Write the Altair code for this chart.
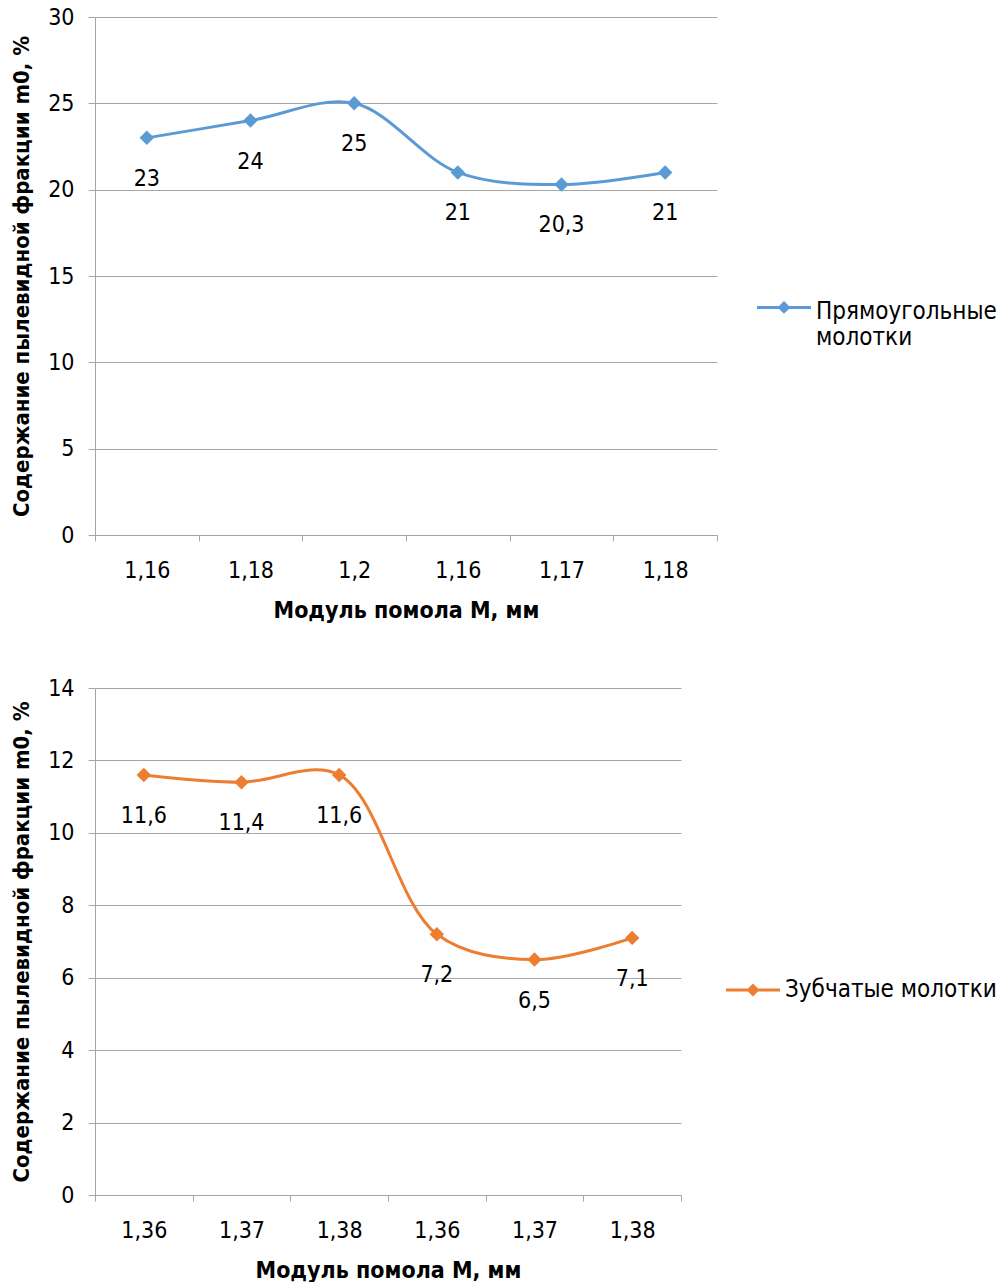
import json

import altair as alt
import pandas as pd

# Axis titles shared by both panels
x_title = "Модуль помола М, мм"
y_title = "Содержание пылевидной фракции m0, %"

# Panel 1: rectangular hammers
top_series = "Прямоугольные молотки"
top_labels = ["1,16", "1,18", "1,2", "1,16", "1,17", "1,18"]
top_values = [23, 24, 25, 21, 20.3, 21]

# Panel 2: toothed hammers
bottom_series = "Зубчатые молотки"
bottom_labels = ["1,36", "1,37", "1,38", "1,36", "1,37", "1,38"]
bottom_values = [11.6, 11.4, 11.6, 7.2, 6.5, 7.1]

FONT = "DejaVu Sans Condensed, Liberation Sans"
GRID = "#A6A6A6"
FS = 23


def legend_glyph(shift):
    """Short line with a diamond in the middle, in unit symbol coordinates,
    optionally raised by `shift` units so it sits on the first label line."""
    def p(x, y):
        return f"{x:g},{y + shift:g}"
    return (
        f"M{p(-1, -0.055)} L{p(1, -0.055)} L{p(1, 0.055)} L{p(-1, 0.055)} Z "
        f"M{p(0, -0.24)} L{p(0.24, 0)} L{p(0, 0.24)} L{p(-0.24, 0)} Z"
    )


def panel(labels, values, series, color, width, height, y_max, y_step,
          legend_x, legend_y, wrap_legend, glyph_shift):
    df = pd.DataFrame({
        "pos": list(range(len(labels))),
        "value": values,
        "series": series,
        "text": [f"{v:g}".replace(".", ",") for v in values],
    })
    label_expr = f"{json.dumps(labels, ensure_ascii=False)}[datum.value]"

    x = alt.X(
        "pos:O",
        bandPosition=0.5,
        scale=alt.Scale(type="band", paddingInner=0, paddingOuter=0),
        axis=alt.Axis(
            title=x_title,
            titleFontSize=23,
            labelExpr=label_expr,
            tickBand="extent",
            labelAngle=0,
            labelPadding=18,
            tickSize=6,
            titlePadding=17,
            grid=False,
        ),
    )
    y = alt.Y(
        "value:Q",
        scale=alt.Scale(domain=[0, y_max], nice=False),
        axis=alt.Axis(
            title=y_title,
            titleFontSize=22,
            values=list(range(0, y_max + 1, y_step)),
            grid=True,
            tickSize=7,
            labelPadding=14,
            titlePadding=14,
        ),
    )
    legend = alt.Legend(
        title=None,
        orient="none",
        legendX=legend_x,
        legendY=legend_y,
        padding=0,
        symbolType=legend_glyph(glyph_shift),
        symbolSize=2916,
        symbolStrokeWidth=0,
        symbolOpacity=1,
        labelFont=FONT,
        labelFontSize=24,
        labelColor="black",
        labelOffset=5,
        labelLimit=400,
        labelExpr="split(datum.label, ' ')" if wrap_legend else "datum.label",
        labelBaseline="alphabetic" if wrap_legend else "middle",
    )
    color_enc = alt.Color(
        "series:N",
        scale=alt.Scale(domain=[series], range=[color]),
        legend=legend,
    )

    base = alt.Chart(df).encode(x=x, y=y)
    line = base.mark_line(interpolate="catmull-rom", strokeWidth=3, color=color)
    points = base.mark_point(shape="diamond", filled=True, size=210, opacity=1).encode(color=color_enc)
    texts = base.mark_text(dy=41, font=FONT, fontSize=FS, color="black").encode(text="text:N")
    return alt.layer(line, points, texts).properties(width=width, height=height)


top = panel(top_labels, top_values, top_series, "#5B9BD5", 622, 518, 30, 5,
            662, 275, True, -0.43)
bottom = panel(bottom_labels, bottom_values, bottom_series, "#ED7D31", 586, 507, 14, 2,
               631, 275, False, 0)

chart = (
    alt.vconcat(top, bottom, spacing=55)
    .resolve_scale(color="independent", x="independent", y="independent")
    .properties(padding={"left": 10, "top": 6, "right": 0, "bottom": 0})
    .configure_view(stroke=None)
    .configure_axis(
        labelFont=FONT,
        labelFontSize=FS,
        labelColor="black",
        titleFont=FONT,
        titleFontWeight="bold",
        titleColor="black",
        domainColor=GRID,
        tickColor=GRID,
        gridColor=GRID,
        domainWidth=1,
        gridWidth=1,
    )
)

chart.save("out.html", embed_options={"renderer": "svg", "actions": False})
